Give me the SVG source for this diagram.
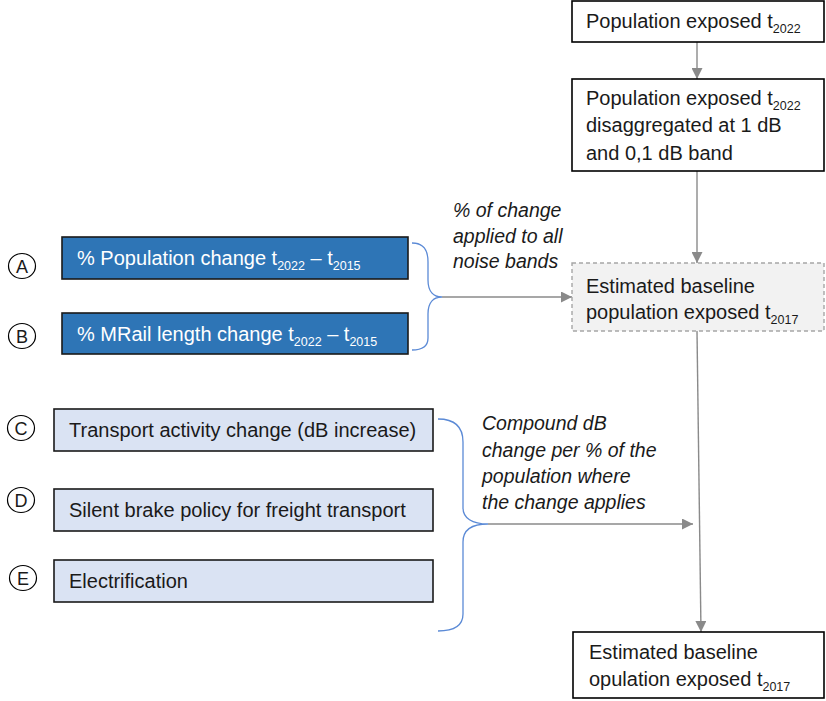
<svg xmlns="http://www.w3.org/2000/svg" width="826" height="701" viewBox="0 0 826 701">
  <defs>
    <marker id="arrow" viewBox="0 0 10 10" refX="10" refY="5" markerWidth="11" markerHeight="11" markerUnits="userSpaceOnUse" orient="auto">
      <path d="M0,0 L10,5 L0,10 Z" fill="#8a8a8a"/>
    </marker>
    <style>
      text { font-family: "Liberation Sans", Arial, sans-serif; font-size: 20px; fill: #1a1a1a; }
      .white { fill: #ffffff; }
      .note { font-style: italic; font-size: 19.5px; }
      .sub { font-size: 12.5px; }
      .box { fill: #ffffff; stroke: #000000; stroke-width: 1.6; }
      .dash { fill: #f2f2f2; stroke: #a6a6a6; stroke-width: 1.4; stroke-dasharray: 4 3; }
      .dark { fill: #2e75b6; stroke: #1a1a1a; stroke-width: 1.6; }
      .light { fill: #dae3f3; stroke: #1a1a1a; stroke-width: 1.6; }
      .tag { fill: #ffffff; stroke: #000000; stroke-width: 1.2; }
      .tagtext { font-size: 18px; text-anchor: middle; }
      .link { fill: none; stroke: #8a8a8a; stroke-width: 1.4; }
      .brace { fill: none; stroke: #5b8ad6; stroke-width: 1.3; }
    </style>
  </defs>

  <!-- connectors -->
  <g id="connectors">
    <line class="link" x1="697" y1="42" x2="697" y2="79" marker-end="url(#arrow)"/>
    <line class="link" x1="697" y1="171" x2="697" y2="263" marker-end="url(#arrow)"/>
    <line class="link" x1="442" y1="297" x2="572" y2="297" marker-end="url(#arrow)"/>
    <line class="link" x1="488" y1="524" x2="693" y2="524" marker-end="url(#arrow)"/>
    <line class="link" x1="697" y1="331" x2="701" y2="632" marker-end="url(#arrow)"/>
    <path class="brace" d="M412,243 C424,243 428,250 428,262 L428,280 C428,292 434,297 442,297 C434,297 428,302 428,314 L428,338 C428,346 422,350 412,350"/>
    <path class="brace" d="M438,419 C456,419 463,428 463,442 L463,508 C463,518 472,524 488,524 C472,524 463,530 463,542 L463,614 C463,625 456,631 438,631"/>
  </g>

  <!-- flow nodes -->
  <g id="pop2022">
    <rect class="box" x="572" y="1" width="252" height="41"/>
    <text x="586" y="28">Population exposed t<tspan class="sub" dy="5">2022</tspan></text>
  </g>
  <g id="pop2022-bands">
    <rect class="box" x="572" y="79" width="252" height="92"/>
    <text x="586" y="105">Population exposed t<tspan class="sub" dy="5">2022</tspan></text>
    <text x="586" y="132">disaggregated at 1 dB</text>
    <text x="586" y="160">and 0,1 dB band</text>
  </g>
  <g id="baseline-est">
    <rect class="dash" x="572" y="263" width="252" height="68"/>
    <text x="586" y="293">Estimated baseline</text>
    <text x="586" y="319">population exposed t<tspan class="sub" dy="5">2017</tspan></text>
  </g>
  <g id="baseline-final">
    <rect class="box" x="573" y="632" width="251" height="66"/>
    <text x="589" y="659">Estimated baseline</text>
    <text x="589" y="686">opulation exposed t<tspan class="sub" dy="5">2017</tspan></text>
  </g>

  <!-- connector labels -->
  <g id="label-ab">
    <text class="note" x="453" y="217">% of change</text>
    <text class="note" x="453" y="243">applied to all</text>
    <text class="note" x="453" y="268">noise bands</text>
  </g>
  <g id="label-cde">
    <text class="note" x="482" y="430">Compound dB</text>
    <text class="note" x="482" y="457">change per % of the</text>
    <text class="note" x="482" y="483">population where</text>
    <text class="note" x="482" y="509">the change applies</text>
  </g>

  <!-- input factors -->
  <g id="factor-a">
    <ellipse class="tag" cx="22" cy="266" rx="13.5" ry="12.5"/>
    <text class="tagtext" x="22" y="272.5">A</text>
    <rect class="dark" x="62" y="237" width="346" height="42"/>
    <text class="white" x="77" y="265">% Population change t<tspan class="sub white" dy="5">2022</tspan><tspan dy="-5"> – t</tspan><tspan class="sub white" dy="5">2015</tspan></text>
  </g>
  <g id="factor-b">
    <ellipse class="tag" cx="22" cy="336" rx="13.5" ry="12.5"/>
    <text class="tagtext" x="22" y="342.5">B</text>
    <rect class="dark" x="62" y="313" width="346" height="41"/>
    <text class="white" x="77" y="341">% MRail length change t<tspan class="sub white" dy="5">2022</tspan><tspan dy="-5"> – t</tspan><tspan class="sub white" dy="5">2015</tspan></text>
  </g>
  <g id="factor-c">
    <ellipse class="tag" cx="21" cy="428" rx="13.5" ry="12.5"/>
    <text class="tagtext" x="21" y="434.5">C</text>
    <rect class="light" x="54" y="409" width="379" height="42"/>
    <text x="69" y="437">Transport activity change (dB increase)</text>
  </g>
  <g id="factor-d">
    <ellipse class="tag" cx="21" cy="500" rx="13.5" ry="12.5"/>
    <text class="tagtext" x="21" y="506.5">D</text>
    <rect class="light" x="54" y="489" width="379" height="42"/>
    <text x="69" y="517">Silent brake policy for freight transport</text>
  </g>
  <g id="factor-e">
    <ellipse class="tag" cx="23" cy="578" rx="13.5" ry="12.5"/>
    <text class="tagtext" x="23" y="584.5">E</text>
    <rect class="light" x="54" y="560" width="379" height="42"/>
    <text x="69" y="588">Electrification</text>
  </g>
</svg>
